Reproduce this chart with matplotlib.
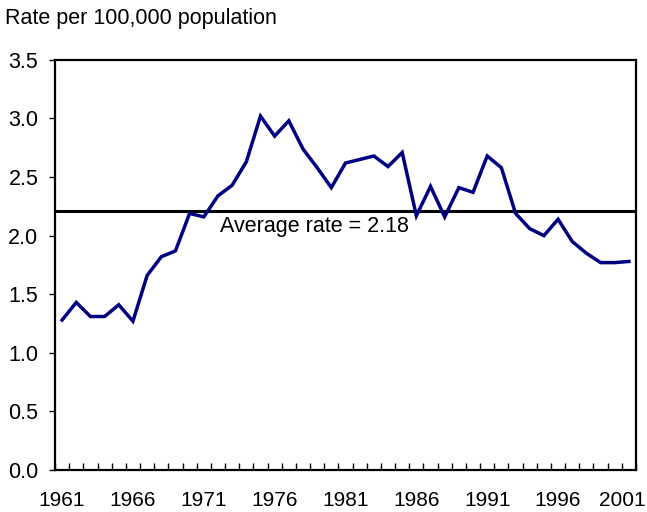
import matplotlib.pyplot as plt
import matplotlib.transforms as mtransforms
import numpy as np

plt.rcParams['font.family'] = ['Liberation Sans', 'DejaVu Sans']

years = list(range(1961, 2002))
rate = [1.28, 1.43, 1.31, 1.31, 1.41, 1.27, 1.66, 1.82, 1.87, 2.19,
        2.16, 2.34, 2.43, 2.63, 3.02, 2.85, 2.98, 2.74, 2.58, 2.41,
        2.62, 2.65, 2.68, 2.59, 2.71, 2.17, 2.42, 2.16, 2.41, 2.37,
        2.68, 2.58, 2.19, 2.06, 2.00, 2.14, 1.95, 1.85, 1.77, 1.77,
        1.78]
avg_line = 2.21
avg_label = 'Average rate = 2.18'
yticks = [0.0, 0.5, 1.0, 1.5, 2.0, 2.5, 3.0, 3.5]
label_years = [1961, 1966, 1971, 1976, 1981, 1986, 1991, 1996, 2001]

fig = plt.figure(figsize=(6.47, 5.12), dpi=100)
ax = fig.add_axes([0.085, 0.082, 0.898, 0.801])

pos = np.arange(len(years))
ax.plot(pos, rate, color='#000080', linewidth=2.5, solid_joinstyle='miter', zorder=3)
ax.axhline(avg_line, color='black', linewidth=2.2, zorder=2)
ax.text(years.index(1972) + 0.15, avg_line - 0.04, avg_label, fontsize=15.5,
        ha='left', va='top')

ax.set_xlim(-0.5, len(years) - 0.5)
ax.set_ylim(0, 3.5)

# category boundary ticks (inside), labels every 5 years
ax.set_xticks(np.arange(len(years) + 1) - 0.5, minor=True)
ax.set_xticks([years.index(y) for y in label_years])
ax.set_xticklabels([str(y) for y in label_years], fontsize=15)
ax.tick_params(axis='x', which='major', length=0, pad=15)
ax.tick_params(axis='x', which='minor', direction='in', length=5, width=1)

# last label would run past the figure edge, nudge it left a bit
last = ax.get_xticklabels()[-1]
last.set_transform(last.get_transform() +
                   mtransforms.ScaledTranslation(-0.07, 0, fig.dpi_scale_trans))

ax.set_yticks(yticks)
ax.set_yticklabels([f'{v:.1f}' for v in yticks], fontsize=15.5)
ax.tick_params(axis='y', direction='out', length=4, width=1, pad=8)

for s in ax.spines.values():
    s.set_linewidth(1.6)
    s.set_color('black')

fig.text(0.008, 0.963, 'Rate per 100,000 population', fontsize=15.5, ha='left', va='center')

fig.savefig('out.png', dpi=100)
